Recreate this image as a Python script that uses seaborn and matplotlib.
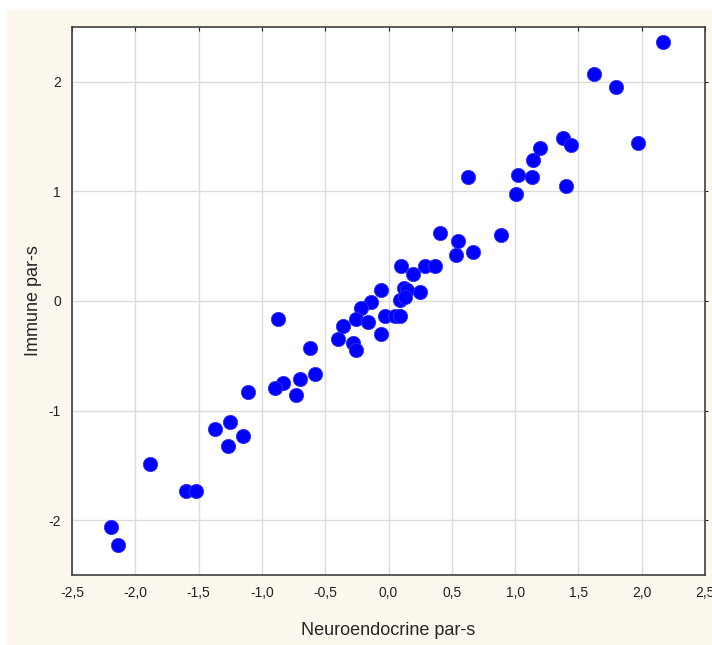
import numpy as np
import pandas as pd
import matplotlib.pyplot as plt
import matplotlib.patches as mpatches
import seaborn as sns

neuro = [2.17, 1.62, 1.80, 1.97, 1.38, 1.44, 1.20, 1.14, 1.02, 1.13, 1.40, 1.01,
         0.63, 0.41, 0.55, 0.89, 0.53, 0.67, 0.10, 0.29, 0.37, 0.19, -0.06, 0.12,
         0.15, 0.25, 0.09, 0.13, -0.14, -0.22, -0.26, -0.16, -0.03, 0.05, 0.09,
         -0.06, -0.36, -0.40, -0.28, -0.26, -0.87, -0.62, -0.58, -0.70, -0.73,
         -0.83, -0.90, -1.11, -1.37, -1.25, -1.15, -1.27, -1.88, -1.60, -1.52,
         -2.19, -2.14]
immune = [2.36, 2.07, 1.95, 1.44, 1.49, 1.42, 1.40, 1.29, 1.15, 1.13, 1.05, 0.98,
          1.13, 0.62, 0.55, 0.60, 0.42, 0.45, 0.32, 0.32, 0.32, 0.25, 0.10, 0.12,
          0.10, 0.08, 0.01, 0.04, -0.01, -0.06, -0.16, -0.19, -0.14, -0.14, -0.14,
          -0.30, -0.23, -0.35, -0.38, -0.45, -0.16, -0.43, -0.67, -0.71, -0.86,
          -0.75, -0.79, -0.83, -1.17, -1.10, -1.23, -1.32, -1.49, -1.73, -1.73,
          -2.06, -2.23]

x_ticks = [-2.5, -2.0, -1.5, -1.0, -0.5, 0.0, 0.5, 1.0, 1.5, 2.0, 2.5]
y_ticks = [-2, -1, 0, 1, 2]

df = pd.DataFrame({'Neuroendocrine par-s': neuro, 'Immune par-s': immune})

sns.set_style("white")
plt.rcParams['font.family'] = ['Liberation Sans', 'DejaVu Sans']

fig = plt.figure(figsize=(7.12, 6.45), dpi=100)
fig.patch.set_facecolor('white')
fig.patches.append(mpatches.Rectangle((7 / 712, 0), 1, 1 - 10 / 645,
                                      transform=fig.transFigure,
                                      color='#fdf8ee', zorder=-10))
ax = fig.add_axes([72 / 712, 70 / 645, 633 / 712, 548 / 645])
ax.set_facecolor('white')

sns.scatterplot(data=df, x='Neuroendocrine par-s', y='Immune par-s', ax=ax,
                color='#0000ff', s=105, edgecolor='#3030ff', linewidth=0.6,
                zorder=3)

ax.set_xlim(-2.5, 2.5)
ax.set_ylim(-2.5, 2.5)
ax.set_xticks(x_ticks)
ax.set_yticks(y_ticks)
ax.set_xticklabels([f"{t:.1f}".replace('.', ',') for t in x_ticks],
                   fontsize=10, color='#111111')
ax.set_yticklabels([str(t) for t in y_ticks], fontsize=10, color='#111111')
ax.grid(True, color='#dcdcdc', linewidth=1)
ax.set_axisbelow(True)
for sp in ax.spines.values():
    sp.set_color('#404040')
    sp.set_linewidth(1.2)
ax.tick_params(axis='both', which='both', direction='in', length=3,
               top=True, right=True, colors='#222222', pad=8)
ax.tick_params(axis='y', direction='out', length=2, pad=6)
ax.set_xlabel('Neuroendocrine par-s', fontsize=13, labelpad=16)
ax.set_ylabel('Immune par-s', fontsize=13)
ax.yaxis.set_label_coords(-0.047, 0.5)

fig.savefig('out.png', dpi=100)
